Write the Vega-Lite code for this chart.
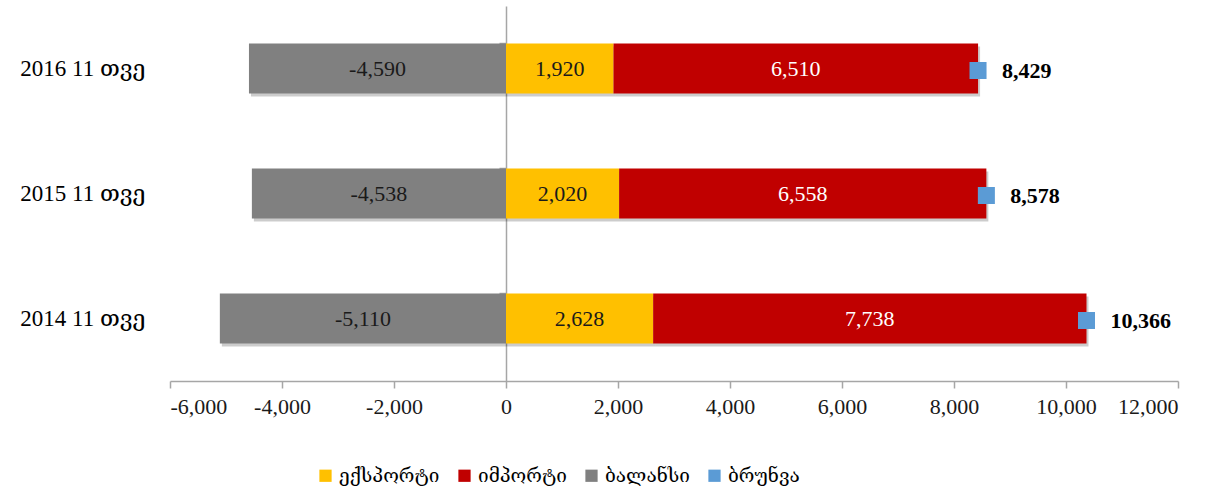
{
  "$schema": "https://vega.github.io/schema/vega-lite/v6.json",
  "width": 1008,
  "height": 375,
  "autosize": {"type": "none"},
  "padding": {"left": 170, "top": 6, "right": 45, "bottom": 108},
  "config": {
    "view": {"stroke": null},
    "font": "Liberation Serif, DejaVu Serif",
    "locale": {
      "number": {"decimal": ".", "thousands": ",", "grouping": [3], "currency": ["$", ""], "minus": "-"}
    },
    "axis": {"labelFont": "Liberation Serif, DejaVu Serif", "labelFontSize": 22, "labelColor": "#1a1a1a", "grid": false}
  },
  "datasets": {
    "trade": [
      {"period": "2016 11 თვე", "series": "ექსპორტი", "value": 1920, "ord": 1},
      {"period": "2016 11 თვე", "series": "იმპორტი", "value": 6510, "ord": 2},
      {"period": "2016 11 თვე", "series": "ბალანსი", "value": -4590, "ord": 3},
      {"period": "2016 11 თვე", "series": "ბრუნვა", "value": 8429, "ord": 4},
      {"period": "2015 11 თვე", "series": "ექსპორტი", "value": 2020, "ord": 1},
      {"period": "2015 11 თვე", "series": "იმპორტი", "value": 6558, "ord": 2},
      {"period": "2015 11 თვე", "series": "ბალანსი", "value": -4538, "ord": 3},
      {"period": "2015 11 თვე", "series": "ბრუნვა", "value": 8578, "ord": 4},
      {"period": "2014 11 თვე", "series": "ექსპორტი", "value": 2628, "ord": 1},
      {"period": "2014 11 თვე", "series": "იმპორტი", "value": 7738, "ord": 2},
      {"period": "2014 11 თვე", "series": "ბალანსი", "value": -5110, "ord": 3},
      {"period": "2014 11 თვე", "series": "ბრუნვა", "value": 10366, "ord": 4}
    ]
  },
  "data": {"name": "trade"},
  "layer": [
    {
      "transform": [{"filter": "datum.series !== 'ბრუნვა'"}],
      "mark": {"type": "bar", "color": "#000000", "opacity": 0.2, "xOffset": 2, "yOffset": 3},
      "encoding": {
        "y": {"field": "period", "type": "nominal", "sort": ["2016 11 თვე", "2015 11 თვე", "2014 11 თვე"], "axis": null},
        "x": {"field": "value", "type": "quantitative", "stack": "zero"},
        "detail": {"field": "series"},
        "order": {"field": "ord", "type": "quantitative"}
      }
    },
    {
      "transform": [{"filter": "datum.series !== 'ბრუნვა'"}],
      "mark": {"type": "bar"},
      "encoding": {
        "y": {
          "field": "period", "type": "nominal", "title": null,
          "sort": ["2016 11 თვე", "2015 11 თვე", "2014 11 თვე"],
          "scale": {"paddingInner": 0.6, "paddingOuter": 0.3},
          "axis": {"domain": false, "ticks": false, "labelPadding": 25, "labelFontSize": 23, "labelColor": "#000000"}
        },
        "x": {
          "field": "value", "type": "quantitative", "stack": "zero", "title": null,
          "scale": {"domain": [-6000, 12000], "nice": false},
          "axis": {
            "values": [-6000, -4000, -2000, 0, 2000, 4000, 6000, 8000, 10000, 12000],
            "format": ",.0f", "domainColor": "#a6a6a6", "domainWidth": 1.5,
            "tickColor": "#a6a6a6", "tickWidth": 1.5, "tickSize": 7, "labelPadding": 8
          }
        },
        "color": {
          "field": "series", "type": "nominal",
          "scale": {
            "domain": ["ექსპორტი", "იმპორტი", "ბალანსი", "ბრუნვა"],
            "range": ["#FFC000", "#C00000", "#808080", "#5B9BD5"]
          },
          "legend": {
            "title": null, "orient": "none", "direction": "horizontal",
            "legendX": 146, "legendY": 460, "padding": 0,
            "symbolType": "square", "symbolSize": 150, "symbolStrokeWidth": 0,
            "labelFont": "DejaVu Serif, DejaVu Sans", "labelFontSize": 19, "labelColor": "#000000",
            "labelOffset": 4, "columnPadding": 15
          }
        },
        "order": {"field": "ord", "type": "quantitative"}
      }
    },
    {
      "transform": [{"filter": "datum.series !== 'ბრუნვა'"}],
      "mark": {"type": "text", "fontSize": 22, "baseline": "middle", "align": "center"},
      "encoding": {
        "y": {"field": "period", "type": "nominal", "sort": ["2016 11 თვე", "2015 11 თვე", "2014 11 თვე"], "axis": null},
        "x": {"field": "value", "type": "quantitative", "stack": "zero", "bandPosition": 0.5},
        "detail": {"field": "series"},
        "order": {"field": "ord", "type": "quantitative"},
        "text": {"field": "value", "type": "quantitative", "format": ","},
        "color": {"condition": {"test": "datum.series === 'იმპორტი'", "value": "#ffffff"}, "value": "#1a1a1a"}
      }
    },
    {
      "transform": [{"filter": "datum.series === 'ბრუნვა'"}],
      "mark": {"type": "point", "shape": "square", "filled": true, "size": 290, "opacity": 1, "yOffset": 2},
      "encoding": {
        "y": {
          "field": "period", "type": "nominal", "sort": ["2016 11 თვე", "2015 11 თვე", "2014 11 თვე"],
          "axis": {
            "orient": "left", "offset": -336, "labels": false, "title": null,
            "bandPosition": 0, "ticks": true, "tickSize": 7, "tickColor": "#a6a6a6", "tickWidth": 1.5,
            "domain": true, "domainColor": "#a6a6a6", "domainWidth": 1.5
          }
        },
        "x": {"field": "value", "type": "quantitative"},
        "color": {"field": "series", "type": "nominal"}
      }
    },
    {
      "transform": [{"filter": "datum.series === 'ბრუნვა'"}],
      "mark": {"type": "text", "fontSize": 22, "fontWeight": "bold", "align": "left", "baseline": "middle", "dx": 24, "yOffset": 2, "color": "#000000"},
      "encoding": {
        "y": {"field": "period", "type": "nominal", "sort": ["2016 11 თვე", "2015 11 თვე", "2014 11 თვე"], "axis": null},
        "x": {"field": "value", "type": "quantitative"},
        "text": {"field": "value", "type": "quantitative", "format": ","}
      }
    }
  ],
  "resolve": {"axis": {"y": "independent"}}
}
